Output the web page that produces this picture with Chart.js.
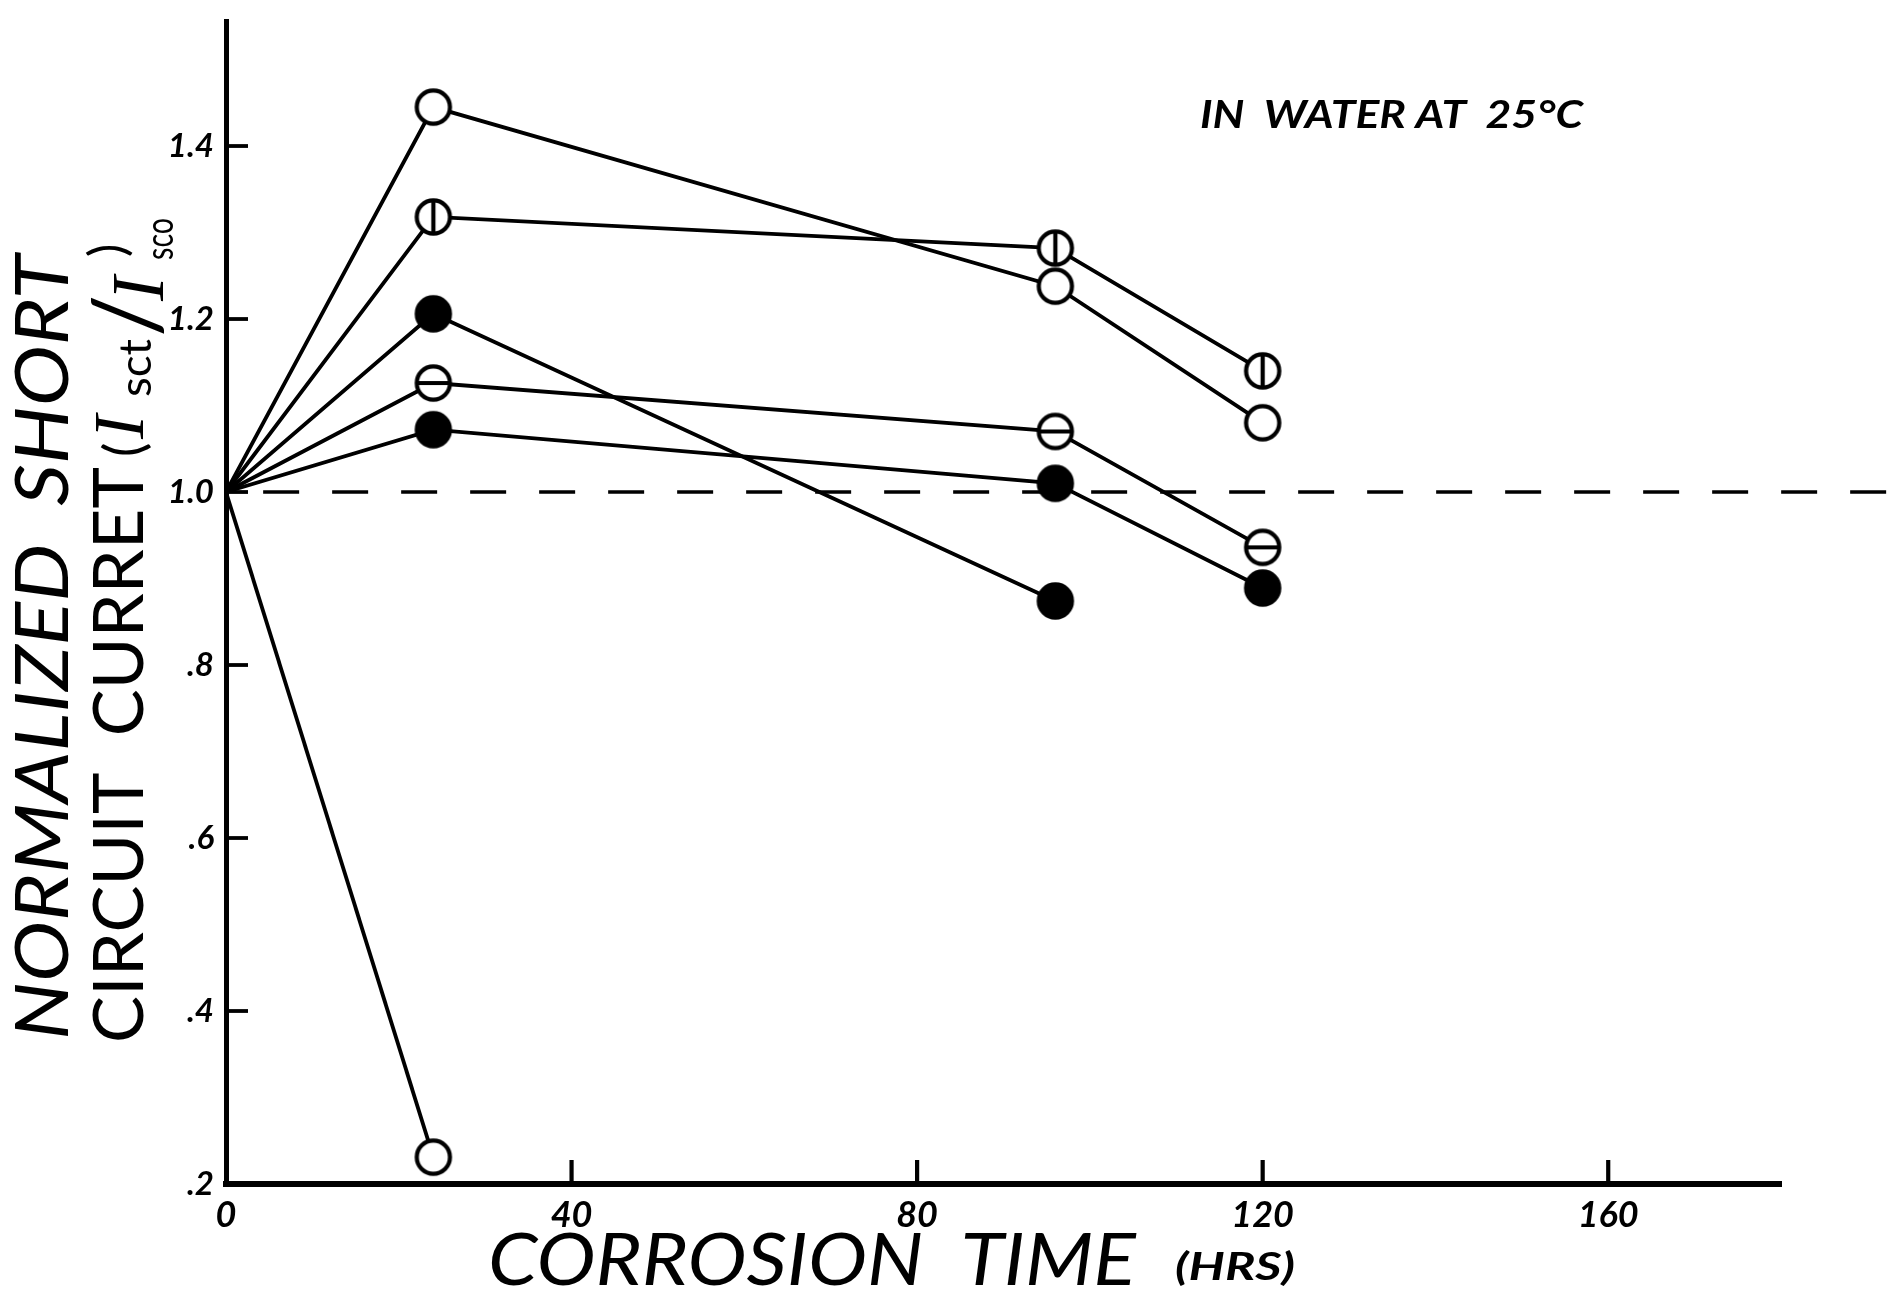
<!DOCTYPE html>
<html>
<head>
<meta charset="utf-8">
<title>Normalized short circuit current vs corrosion time</title>
<script src="https://cdn.jsdelivr.net/npm/chart.js@4.4.1/dist/chart.umd.min.js"></script>
<style>
  html, body { margin: 0; padding: 0; background: #fff; }
</style>
</head>
<body>
<canvas id="chart" width="1895" height="1302"></canvas>
<script>
// corrosion time (hrs) of each measurement
const hours = [0, 24, 96, 120];

// Isc(t) / Isc(0) per cell, one array per marker type
const cellOpen      = [1.0, 1.445, 1.238, 1.080];
const cellVertBar   = [1.0, 1.318, 1.282, 1.140];
const cellSolidHigh = [1.0, 1.206, 0.874];
const cellHorizBar  = [1.0, 1.126, 1.070, 0.936];
const cellSolidLow  = [1.0, 1.072, 1.010, 0.889];
const cellOpenFail  = [1.0, 0.231];

// dashed 1.0 reference, runs off the right of the axis
const baselineHours = [4.3, 193.6];
const baselineValue = [1.0, 1.0];

const xTicks = [0, 40, 80, 120, 160];
const xTickLabels = ['0', '40', '80', '120', '160'];
const yTicks = [0.2, 0.4, 0.6, 0.8, 1.0, 1.2, 1.4];
const yTickLabels = ['.2', '.4', '.6', '.8', '1.0', '1.2', '1.4'];

// ---- markers (drawn once, used as pointStyle images) ----
function makeMarker(kind) {
  const r = 16.6, lw = 4.2;
  const size = Math.ceil(2 * (r + lw)) + 2;
  const c = document.createElement('canvas');
  c.width = c.height = size;
  const g = c.getContext('2d');
  const m = size / 2;
  g.beginPath();
  g.arc(m, m, r, 0, Math.PI * 2);
  g.fillStyle = kind === 'solid' ? '#000' : '#fff';
  g.fill();
  g.lineWidth = lw;
  g.strokeStyle = '#000';
  g.stroke();
  g.beginPath();
  if (kind === 'vbar') { g.moveTo(m, m - r); g.lineTo(m, m + r); }
  if (kind === 'hbar') { g.moveTo(m - r, m); g.lineTo(m + r, m); }
  g.stroke();
  return c;
}

const MK = {
  open: makeMarker('open'),
  vbar: makeMarker('vbar'),
  hbar: makeMarker('hbar'),
  solid: makeMarker('solid')
};

function series(values, marker) {
  return {
    data: values.map((v, i) => ({ x: hours[i], y: v })),
    borderColor: '#000',
    borderWidth: 3.8,
    pointStyle: MK[marker],
    // no marker at the common origin (0, 1.0)
    pointRadius: c => (c.dataIndex === 0 ? 0 : 18),
    order: 0
  };
}

// ---- helpers for the hand-lettered labels ----
function fitText(ctx, text, x, y, width) {
  const w = ctx.measureText(text).width;
  ctx.save();
  ctx.translate(x, y);
  ctx.scale(width / w, 1);
  ctx.fillText(text, 0, 0);
  ctx.restore();
}

const innerTicks = {
  id: 'innerTicks',
  afterDatasetsDraw(chart) {
    const { ctx, chartArea: a, scales: { x, y } } = chart;
    ctx.save();
    ctx.strokeStyle = '#000';
    ctx.lineWidth = 3.8;
    y.ticks.forEach(t => {
      if (t.value === y.min) return;
      const py = y.getPixelForValue(t.value);
      ctx.beginPath(); ctx.moveTo(a.left, py); ctx.lineTo(a.left + 22, py); ctx.stroke();
    });
    ctx.lineWidth = 4.2;
    x.ticks.forEach(t => {
      if (t.value === x.min) return;
      const px = x.getPixelForValue(t.value);
      ctx.beginPath(); ctx.moveTo(px, a.bottom); ctx.lineTo(px, a.bottom - 24); ctx.stroke();
    });
    ctx.restore();
  }
};

const lettering = {
  id: 'lettering',
  afterDraw(chart) {
    const ctx = chart.ctx;
    ctx.save();
    ctx.fillStyle = '#000';
    ctx.textAlign = 'left';
    ctx.textBaseline = 'alphabetic';

    // y title, line 1
    ctx.save();
    ctx.translate(68, 1040);
    ctx.rotate(-Math.PI / 2);
    ctx.font = 'italic 400 74px Lato, "DejaVu Sans", sans-serif';
    fitText(ctx, 'NORMALIZED  SHORT', 0, 0, 785);
    ctx.restore();

    // y title, line 2 with (Isct / Isco)
    ctx.save();
    ctx.translate(143, 1043);
    ctx.rotate(-Math.PI / 2);
    ctx.font = '400 70px Lato, "DejaVu Sans", sans-serif';
    fitText(ctx, 'CIRCUIT  CURRET', 0, 0, 576);
    ctx.font = '400 54px Lato, sans-serif';
    ctx.fillText('(', 586, 0);
    ctx.font = 'italic 72px "Liberation Serif", serif';
    ctx.fillText('I', 604, 0);
    ctx.font = '400 44px Lato, sans-serif';
    fitText(ctx, 'sct', 646, 8, 58);
    ctx.font = '400 94px Lato, sans-serif';
    ctx.fillText('/', 706, 16);
    ctx.font = 'italic 74px "Liberation Serif", serif';
    ctx.fillText('I', 742, 20);
    ctx.font = '400 38px Lato, sans-serif';
    fitText(ctx, 'sco', 783, 30, 42);
    ctx.font = '400 50px Lato, sans-serif';
    ctx.fillText(')', 786, -18);
    ctx.restore();

    // x title
    ctx.font = 'italic 400 71px Lato, "DejaVu Sans", sans-serif';
    fitText(ctx, 'CORROSION  TIME', 488, 1285, 648);
    ctx.font = 'italic bold 38px Lato, "DejaVu Sans", sans-serif';
    fitText(ctx, '(HRS)', 1175, 1280, 120);

    // conditions note
    ctx.font = 'italic bold 38px Lato, "DejaVu Sans", sans-serif';
    fitText(ctx, 'IN  WATER AT  25°C', 1200, 128, 383);
    ctx.restore();
  }
};

const tickFont = { family: 'Lato, "DejaVu Sans", sans-serif', size: 36, style: 'italic', weight: 'bold' };

new Chart(document.getElementById('chart'), {
  type: 'line',
  data: {
    datasets: [
      series(cellOpen, 'open'),
      series(cellVertBar, 'vbar'),
      series(cellSolidHigh, 'solid'),
      series(cellHorizBar, 'hbar'),
      series(cellSolidLow, 'solid'),
      series(cellOpenFail, 'open'),
      {
        data: baselineHours.map((h, i) => ({ x: h, y: baselineValue[i] })),
        borderColor: '#000',
        borderWidth: 3.6,
        borderDash: [36, 33],
        pointRadius: 0,
        clip: false,
        order: 1
      }
    ]
  },
  options: {
    responsive: false,
    animation: false,
    events: [],
    layout: { padding: { top: 14, right: 114, left: 0, bottom: 0 } },
    plugins: { legend: { display: false }, tooltip: { enabled: false } },
    scales: {
      x: {
        type: 'linear',
        min: 0,
        max: 180,
        afterBuildTicks: s => { s.ticks = xTicks.map(v => ({ value: v })); },
        afterFit: s => { s.height = 118; s.paddingLeft = 0; s.paddingRight = 0; },
        grid: { drawOnChartArea: false, drawTicks: false },
        border: { color: '#000', width: 6 },
        ticks: {
          color: '#000',
          padding: 10,
          autoSkip: false,
          maxRotation: 0,
          font: tickFont,
          callback: (v, i) => xTickLabels[i]
        }
      },
      y: {
        type: 'linear',
        min: 0.2,
        max: 1.5436,
        afterBuildTicks: s => { s.ticks = yTicks.map(v => ({ value: v })); },
        afterFit: s => { s.width = 226; s.paddingTop = 0; s.paddingBottom = 0; },
        grid: { drawOnChartArea: false, drawTicks: false },
        border: { color: '#000', width: 5 },
        ticks: {
          color: '#000',
          padding: 12,
          autoSkip: false,
          font: { ...tickFont, size: 33 },
          callback: (v, i) => yTickLabels[i]
        }
      }
    }
  },
  plugins: [innerTicks, lettering]
});
</script>
</body>
</html>
